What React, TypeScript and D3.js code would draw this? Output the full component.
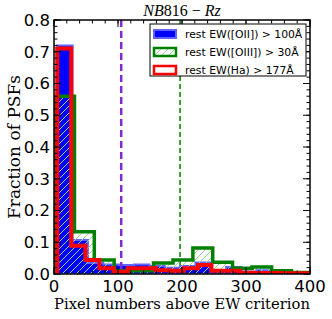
import React from 'react';
import * as d3 from 'd3';

// bin edges and fractions
const blueEdges = [5, 29, 53, 77, 101, 125, 149, 173, 197, 221, 245, 269, 293, 317, 341, 365, 389];
const blueValues = [0.72, 0.107, 0.035, 0.03, 0.028, 0.03, 0.025, 0.02, 0.025, 0.036, 0.012, 0.022, 0.008, 0.012, 0.005, 0.004];

const greenEdges = [1.5, 32, 63, 94, 125, 155.5, 186, 217, 248, 279, 309.5, 340, 371, 401];
const greenValues = [0.56, 0.133, 0.044, 0.01, 0.01, 0.035, 0.044, 0.082, 0.037, 0.018, 0.022, 0.01, 0.005];

const redEdges = [5, 27, 49, 71, 93, 115, 137, 159, 181, 203, 225, 246, 268, 290, 312, 334, 356, 378, 400];
const redValues = [0.71, 0.089, 0.044, 0.018, 0.007, 0.018, 0.018, 0.012, 0.01, 0.018, 0.028, 0.01, 0.01, 0.004, 0.003, 0.003, 0.002, 0.002];

const cutLines = [
    { value: 105, color: '#7d2ad0', width: 2.5, dash: '7,4' },
    { value: 197, color: '#008000', width: 1.5, dash: '5,3' }
];

const legendLabels = ['rest EW([OII]) > 100Å', 'rest EW([OIII]) > 30Å', 'rest EW(Ha) > 177Å'];

const App = () => {
    const margin = { top: 20, right: 22, bottom: 45, left: 54 };
    const width = 332, height = 319;

    const x = d3.scaleLinear().domain([0, 400]).range([margin.left, width - margin.right]);
    const y = d3.scaleLinear().domain([0, 0.8]).range([height - margin.bottom, margin.top]);

    const x0 = x.range()[0], x1 = x.range()[1];
    const y0 = y.range()[0], y1 = y.range()[1];

    function stepPoints(edges: number[], values: number[]): [number, number][] {
        let pts: [number, number][] = [[edges[0], 0]];
        values.forEach((v, i) => {
            pts.push([edges[i], v]);
            pts.push([edges[i + 1], v]);
        });
        pts.push([edges[edges.length - 1], 0]);
        return pts;
    }

    const lineFunc = d3.line<[number, number]>().x(d => x(d[0])).y(d => y(d[1]));

    const bluePath = lineFunc(stepPoints(blueEdges, blueValues)) + 'Z';
    const greenPath = lineFunc(stepPoints(greenEdges, greenValues));
    const redPath = lineFunc(stepPoints(redEdges, redValues));

    const fmt = d3.format('.1f');

    const xMajor = x.ticks(5);
    const xMinor = x.ticks(20);
    const yMajor = y.ticks(8);
    const yMinor = y.ticks(40);

    const tickStyle = { stroke: 'black', strokeWidth: 1 };

    return (
        <svg width={width} height={height} style={{ position: 'absolute', left: 0, top: 0, background: 'white' }}>
            <defs>
                <clipPath id="plotArea">
                    <rect x={x0} y={y1} width={x1 - x0} height={y0 - y1} />
                </clipPath>
                <pattern id="hatch" patternUnits="userSpaceOnUse" width={7} height={7}>
                    <path d="M-1,1 L1,-1 M0,7 L7,0 M6,8 L8,6" stroke="#98d498" strokeWidth={1} />
                </pattern>
            </defs>
            <rect x={0} y={0} width={width} height={height} fill="white" />

            <g clipPath="url(#plotArea)">
                <path d={bluePath} fill="#0000ff" stroke="#6262ff" strokeWidth={2} />
                {cutLines.map((c, i) =>
                    <line key={i} x1={x(c.value)} x2={x(c.value)} y1={y1} y2={y0} stroke={c.color} strokeWidth={c.width} strokeDasharray={c.dash} />
                )}
                <path d={greenPath + 'Z'} fill="url(#hatch)" stroke="none" />
                <path d={greenPath} fill="none" stroke="#008000" strokeWidth={3.5} strokeLinejoin="miter" />
                <path d={redPath} fill="none" stroke="#ff0000" strokeWidth={4} strokeLinejoin="miter" />
            </g>

            {/* ticks, inward on all four sides */}
            <g>
                {xMinor.map((t, i) =>
                    <g key={'xm' + i}>
                        <line x1={x(t)} x2={x(t)} y1={y0} y2={y0 - 3.5} {...tickStyle} />
                        <line x1={x(t)} x2={x(t)} y1={y1} y2={y1 + 3.5} {...tickStyle} />
                    </g>
                )}
                {xMajor.map((t, i) =>
                    <g key={'xM' + i}>
                        <line x1={x(t)} x2={x(t)} y1={y0} y2={y0 - 7} {...tickStyle} />
                        <line x1={x(t)} x2={x(t)} y1={y1} y2={y1 + 7} {...tickStyle} />
                    </g>
                )}
                {yMinor.map((t, i) =>
                    <g key={'ym' + i}>
                        <line x1={x0} x2={x0 + 3.5} y1={y(t)} y2={y(t)} {...tickStyle} />
                        <line x1={x1} x2={x1 - 3.5} y1={y(t)} y2={y(t)} {...tickStyle} />
                    </g>
                )}
                {yMajor.map((t, i) =>
                    <g key={'yM' + i}>
                        <line x1={x0} x2={x0 + 7} y1={y(t)} y2={y(t)} {...tickStyle} />
                        <line x1={x1} x2={x1 - 7} y1={y(t)} y2={y(t)} {...tickStyle} />
                    </g>
                )}
            </g>

            <rect x={x0} y={y1} width={x1 - x0} height={y0 - y1} fill="none" stroke="black" strokeWidth={1.5} />

            {/* tick labels */}
            <g fontFamily="DejaVu Sans" fontSize={16.5} fill="black">
                {xMajor.map((t, i) =>
                    <text key={'xl' + i} x={x(t)} y={y0 + 18} textAnchor="middle">{t}</text>
                )}
                {yMajor.map((t, i) =>
                    <text key={'yl' + i} x={x0 - 4} y={y(t)} dy="0.36em" textAnchor="end">{fmt(t)}</text>
                )}
            </g>

            {/* title and axis labels */}
            <text x={(x0 + x1) / 2} y={16} textAnchor="middle" fontFamily="Liberation Serif" fontSize={16}>
                <tspan fontStyle="italic">NB</tspan><tspan>816</tspan><tspan> − </tspan><tspan fontStyle="italic">Rz</tspan>
            </text>
            <text x={(x0 + x1) / 2} y={309} textAnchor="middle" fontFamily="DejaVu Serif" fontSize={14.75}>Pixel numbers above EW criterion</text>
            <text transform={`translate(20,${(y0 + y1) / 2}) rotate(-90)`} textAnchor="middle" fontFamily="DejaVu Serif" fontSize={17}>Fraction of PSFs</text>

            {/* legend */}
            <g>
                <rect x={150} y={24} width={156} height={52} fill="white" stroke="black" strokeWidth={1} />
                {legendLabels.map((label, i) => {
                    const cy = 34 + i * 18;
                    return (
                        <g key={i}>
                            {i === 0 && <rect x={154} y={cy - 4} width={22} height={8} fill="#0000ff" stroke="#6262ff" strokeWidth={2} />}
                            {i === 1 && <rect x={154} y={cy - 4} width={22} height={8} fill="url(#hatch)" stroke="#008000" strokeWidth={2.5} />}
                            {i === 2 && <rect x={154} y={cy - 4} width={22} height={8} fill="white" stroke="#ff0000" strokeWidth={2.5} />}
                            <text x={185} y={cy} dy="0.36em" fontFamily="DejaVu Sans" fontSize={10.8}>{label}</text>
                        </g>
                    );
                })}
            </g>
        </svg>
    );
};

export default App;
